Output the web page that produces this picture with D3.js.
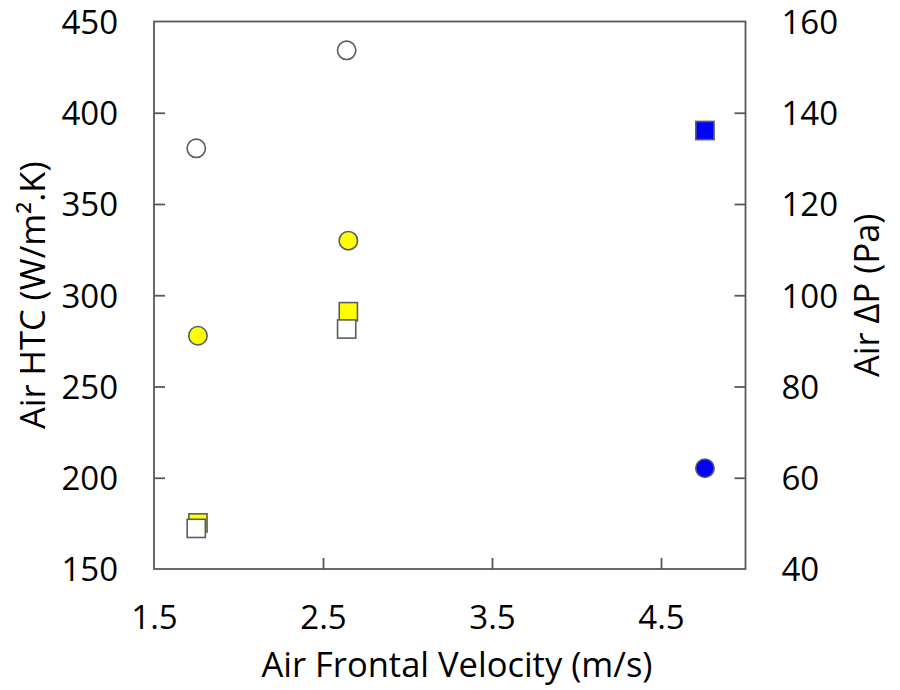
<!DOCTYPE html>
<html>
<head>
<meta charset="utf-8">
<script src="https://cdn.jsdelivr.net/npm/d3@7"></script>
<style>
  body { margin: 0; background: #fff; }
  text { font-family: "Open Sans", sans-serif; fill: #000; }
</style>
</head>
<body>
<div id="viz"></div>
<script>
// data
const xTicks = [1.5, 2.5, 3.5, 4.5];
const htcTicks = [150, 200, 250, 300, 350, 400, 450];
const dpTicks = [40, 60, 80, 100, 120, 140, 160];

// circles -> Air HTC (left axis)
const htcOpen = [[1.75, 380.5], [2.64, 434.2]];
const htcYellow = [[1.76, 277.8], [2.65, 329.9]];
const htcBlue = [[4.76, 205.2]];

// squares -> Air dP (right axis)
const dpYellow = [[1.76, 50.1], [2.65, 96.4]];
const dpOpen = [[1.75, 48.9], [2.64, 92.6]];
const dpBlue = [[4.76, 136.1]];

const width = 900;
const height = 690;
const plotLeft = 154, plotRight = 745.5, plotTop = 21.5, plotBottom = 569;
const axisColor = "#595959";

const svg = d3.select("#viz").append("svg")
    .attr("width", width)
    .attr("height", height);

const x = d3.scaleLinear().domain([1.5, 5]).range([plotLeft, plotRight]);
const yL = d3.scaleLinear().domain([150, 450]).range([plotBottom, plotTop]);
const yR = d3.scaleLinear().domain([40, 160]).range([plotBottom, plotTop]);

// frame
svg.append("rect")
    .attr("x", plotLeft).attr("y", plotTop)
    .attr("width", plotRight - plotLeft).attr("height", plotBottom - plotTop)
    .attr("fill", "none")
    .attr("stroke", axisColor)
    .attr("stroke-width", 1.8);

// axes, ticks pointing in
const tickLen = 11;
function styleAxis(g) {
    g.select(".domain").remove();
    g.selectAll(".tick line").attr("stroke", axisColor).attr("stroke-width", 1.8);
    g.selectAll(".tick text").style("font-size", "33px").attr("fill", "#000");
}

svg.append("g")
    .attr("transform", "translate(0," + plotBottom + ")")
    .call(d3.axisBottom(x).tickValues(xTicks).tickFormat(d3.format(".1f"))
        .tickSizeInner(-tickLen).tickSizeOuter(0).tickPadding(0))
    .call(styleAxis)
    .call(g => g.selectAll(".tick text").attr("y", 60).attr("dy", 0));

svg.append("g")
    .attr("transform", "translate(" + plotLeft + ",0)")
    .call(d3.axisLeft(yL).tickValues(htcTicks)
        .tickSizeInner(-tickLen).tickSizeOuter(0))
    .call(styleAxis)
    .call(g => g.selectAll(".tick text").attr("x", -36).attr("dy", "0.36em"));

svg.append("g")
    .attr("transform", "translate(" + plotRight + ",0)")
    .call(d3.axisRight(yR).tickValues(dpTicks)
        .tickSizeInner(-tickLen).tickSizeOuter(0))
    .call(styleAxis)
    .call(g => g.selectAll(".tick text").attr("x", 36).attr("dy", "0.36em"));

// corner ticks sit on the frame, hide the ones that double it
svg.selectAll(".tick").filter(d => d === 1.5 || d === 150 || d === 450 || d === 40 || d === 160)
    .select("line").remove();

// axis titles
svg.append("text")
    .attr("x", 457).attr("y", 677)
    .attr("text-anchor", "middle")
    .style("font-size", "34.5px")
    .text("Air Frontal Velocity (m/s)");

svg.append("text")
    .attr("transform", "translate(45," + ((plotTop + plotBottom) / 2) + ") rotate(-90)")
    .attr("text-anchor", "middle")
    .style("font-size", "34.5px")
    .text("Air HTC (W/m\u00b2.K)");

svg.append("text")
    .attr("transform", "translate(879," + ((plotTop + plotBottom) / 2) + ") rotate(-90)")
    .attr("text-anchor", "middle")
    .style("font-size", "34.5px")
    .text("Air \u0394P (Pa)");

// markers
const r = 9.2, side = 18.2;
const stroke = "#5a5d62";

function drawCircles(data, fill) {
    svg.append("g").selectAll("circle")
        .data(data)
        .join("circle")
        .attr("cx", d => x(d[0]))
        .attr("cy", d => yL(d[1]))
        .attr("r", r)
        .attr("fill", fill)
        .attr("stroke", stroke)
        .attr("stroke-width", 1.6);
}

function drawSquares(data, fill) {
    svg.append("g").selectAll("rect")
        .data(data)
        .join("rect")
        .attr("x", d => x(d[0]) - side / 2)
        .attr("y", d => yR(d[1]) - side / 2)
        .attr("width", side)
        .attr("height", side)
        .attr("fill", fill)
        .attr("stroke", stroke)
        .attr("stroke-width", 1.6);
}

drawCircles(htcOpen, "#ffffff");
drawCircles(htcYellow, "#ffff00");
drawCircles(htcBlue, "#0000ff");
drawSquares(dpYellow, "#ffff00");
drawSquares(dpOpen, "#ffffff");
drawSquares(dpBlue, "#0000ff");
</script>
</body>
</html>
